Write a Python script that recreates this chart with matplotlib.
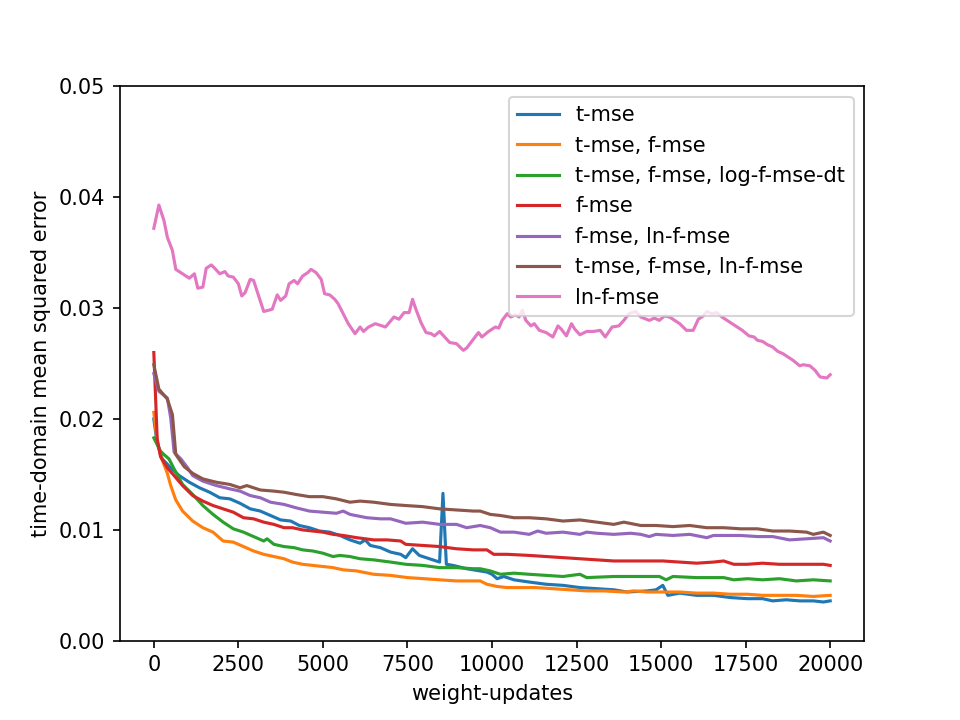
import matplotlib
matplotlib.use('Agg')

import matplotlib.pyplot as plt

# ==========================================
# data (weight-updates, mse)
# ==========================================
t_mse_steps = [0, 100, 250, 500, 750, 1050, 1350, 1650, 1950, 2250, 2550, 2850, 3150, 3450,
               3750, 4050, 4300, 4600, 4900, 5200, 5500, 5800, 6100, 6250, 6400, 6700, 7000,
               7300, 7450, 7650, 7850, 8150, 8450, 8550, 8650, 8850, 9250, 9650, 9850, 10000,
               10150, 10350, 10650, 11100, 11600, 12100, 12600, 13100, 13600, 14000, 14600,
               14850, 15050, 15200, 15550, 16050, 16550, 17050, 17550, 18000, 18300, 18700,
               19100, 19500, 19800, 20000]
t_mse = [0.0200, 0.0178, 0.0164, 0.0156, 0.0149, 0.0143, 0.0138, 0.0134, 0.0129, 0.0128,
         0.0124, 0.0119, 0.0117, 0.0113, 0.0109, 0.0108, 0.0104, 0.0102, 0.0099, 0.0098,
         0.0095, 0.0091, 0.0088, 0.0091, 0.0086, 0.0084, 0.0080, 0.0078, 0.0075, 0.0083,
         0.0077, 0.0074, 0.0071, 0.0133, 0.0069, 0.0068, 0.0065, 0.0063, 0.0062, 0.0060,
         0.0056, 0.0058, 0.0055, 0.0053, 0.0051, 0.0050, 0.0048, 0.0047, 0.0046, 0.0044,
         0.0045, 0.0046, 0.0050, 0.0041, 0.0043, 0.0041, 0.0041, 0.0039, 0.0038, 0.0038,
         0.0036, 0.0037, 0.0036, 0.0036, 0.0035, 0.0036]

tf_steps = [0, 100, 200, 300, 400, 500, 650, 850, 1150, 1450, 1750, 2050, 2350, 2650, 2950,
            3250, 3550, 3850, 4100, 4400, 4700, 5000, 5300, 5600, 6000, 6500, 7000, 7500,
            8000, 8450, 8950, 9450, 9650, 9850, 10150, 10450, 10850, 11300, 11800, 12300,
            12800, 13300, 13900, 14200, 14600, 15050, 15550, 16050, 16550, 17050, 17550,
            18000, 18500, 19000, 19500, 20000]
tf_mse = [0.0206, 0.0180, 0.0167, 0.0159, 0.0151, 0.0140, 0.0127, 0.0117, 0.0108, 0.0102,
          0.0098, 0.0090, 0.0089, 0.0085, 0.0081, 0.0078, 0.0076, 0.0074, 0.0071, 0.0069,
          0.0068, 0.0067, 0.0066, 0.0064, 0.0063, 0.0060, 0.0059, 0.0057, 0.0056, 0.0055,
          0.0054, 0.0054, 0.0054, 0.0051, 0.0049, 0.0048, 0.0048, 0.0048, 0.0047, 0.0046,
          0.0045, 0.0045, 0.0044, 0.0045, 0.0044, 0.0044, 0.0044, 0.0043, 0.0043, 0.0042,
          0.0042, 0.0041, 0.0041, 0.0041, 0.0040, 0.0041]

tf_log_steps = [0, 200, 300, 450, 600, 850, 1150, 1450, 1750, 2050, 2350, 2650, 2950, 3250,
                3350, 3550, 3850, 4150, 4400, 4700, 5000, 5300, 5500, 5800, 6100, 6500, 7000,
                7450, 7950, 8450, 8950, 9450, 9650, 9950, 10250, 10650, 11100, 11600, 12100,
                12600, 12800, 13600, 14100, 14950, 15150, 15350, 16050, 16850, 17150, 17550,
                18000, 18500, 19000, 19500, 20000]
tf_log_mse = [0.0183, 0.0171, 0.0168, 0.0164, 0.0155, 0.0141, 0.0132, 0.0122, 0.0114, 0.0107,
              0.0101, 0.0098, 0.0094, 0.0090, 0.0092, 0.0087, 0.0085, 0.0084, 0.0082, 0.0081,
              0.0079, 0.0076, 0.0077, 0.0076, 0.0074, 0.0073, 0.0071, 0.0069, 0.0068, 0.0066,
              0.0066, 0.0065, 0.0065, 0.0063, 0.0060, 0.0061, 0.0060, 0.0059, 0.0058, 0.0060,
              0.0057, 0.0058, 0.0058, 0.0058, 0.0055, 0.0058, 0.0057, 0.0057, 0.0055, 0.0056,
              0.0055, 0.0056, 0.0054, 0.0055, 0.0054]

f_steps = [0, 100, 200, 400, 600, 850, 1150, 1450, 1750, 2050, 2350, 2650, 2950, 3250, 3550,
           3850, 4100, 4400, 4700, 5000, 5300, 5600, 6000, 6500, 6900, 7300, 7450, 7950, 8450,
           8950, 9450, 9850, 10050, 10450, 11100, 11600, 12100, 12600, 13100, 13600, 14100,
           14600, 15050, 15550, 16050, 16550, 16850, 17150, 17550, 18000, 18500, 19000, 19500,
           19800, 20000]
f_mse = [0.0260, 0.0182, 0.0166, 0.0156, 0.0149, 0.0140, 0.0131, 0.0126, 0.0122, 0.0119,
         0.0116, 0.0111, 0.0110, 0.0107, 0.0105, 0.0102, 0.0102, 0.0100, 0.0099, 0.0098,
         0.0096, 0.0095, 0.0093, 0.0091, 0.0091, 0.0090, 0.0087, 0.0086, 0.0085, 0.0083,
         0.0082, 0.0082, 0.0078, 0.0078, 0.0077, 0.0076, 0.0075, 0.0074, 0.0073, 0.0072,
         0.0072, 0.0072, 0.0072, 0.0071, 0.0070, 0.0071, 0.0072, 0.0069, 0.0069, 0.0070,
         0.0069, 0.0069, 0.0069, 0.0069, 0.0068]

f_ln_steps = [0, 150, 400, 500, 600, 800, 1000, 1150, 1450, 1850, 2250, 2550, 2850, 3150, 3450,
              3850, 4200, 4600, 5000, 5400, 5600, 5800, 6300, 6700, 7000, 7450, 7950, 8450,
              8950, 9250, 9650, 9950, 10250, 10650, 11100, 11350, 11600, 12100, 12600, 12800,
              13100, 13600, 14100, 14400, 14650, 14850, 15350, 15850, 16350, 16550, 16850,
              17350, 17850, 18300, 18800, 19300, 19800, 20000]
f_ln_mse = [0.0241, 0.0225, 0.0219, 0.0201, 0.0170, 0.0164, 0.0156, 0.0149, 0.0144, 0.0140,
            0.0137, 0.0135, 0.0131, 0.0129, 0.0125, 0.0123, 0.0120, 0.0117, 0.0116, 0.0115,
            0.0117, 0.0114, 0.0111, 0.0110, 0.0110, 0.0106, 0.0107, 0.0105, 0.0105, 0.0102,
            0.0104, 0.0102, 0.0098, 0.0098, 0.0096, 0.0099, 0.0097, 0.0098, 0.0096, 0.0098,
            0.0097, 0.0096, 0.0097, 0.0096, 0.0094, 0.0096, 0.0095, 0.0096, 0.0093, 0.0095,
            0.0095, 0.0095, 0.0094, 0.0094, 0.0091, 0.0092, 0.0093, 0.0090]

tf_ln_steps = [0, 150, 400, 550, 650, 900, 1150, 1450, 1850, 2250, 2550, 2750, 3150, 3550,
               3850, 4200, 4600, 5000, 5400, 5800, 6100, 6500, 7000, 7450, 7950, 8450, 8950,
               9450, 9650, 9950, 10250, 10650, 11100, 11600, 12100, 12600, 13100, 13600, 13900,
               14400, 14850, 15350, 15850, 16350, 16850, 17350, 17850, 18300, 18800, 19300,
               19500, 19800, 20000]
tf_ln_mse = [0.0249, 0.0227, 0.0218, 0.0204, 0.0168, 0.0157, 0.0151, 0.0146, 0.0143, 0.0141,
             0.0138, 0.0140, 0.0136, 0.0135, 0.0134, 0.0132, 0.0130, 0.0130, 0.0128, 0.0125,
             0.0126, 0.0125, 0.0123, 0.0122, 0.0121, 0.0119, 0.0118, 0.0117, 0.0117, 0.0114,
             0.0113, 0.0111, 0.0111, 0.0110, 0.0108, 0.0109, 0.0107, 0.0105, 0.0107, 0.0104,
             0.0104, 0.0103, 0.0104, 0.0102, 0.0102, 0.0101, 0.0101, 0.0099, 0.0099, 0.0098,
             0.0096, 0.0098, 0.0095]

ln_steps = [0, 150, 300, 400, 550, 650, 850, 950, 1050, 1200, 1300, 1450, 1550, 1700, 1800,
            1950, 2100, 2200, 2350, 2500, 2600, 2700, 2850, 2950, 3100, 3250, 3500, 3650, 3750,
            3900, 4000, 4150, 4250, 4400, 4550, 4650, 4800, 4950, 5050, 5200, 5350, 5450, 5600,
            5750, 5950, 6100, 6200, 6350, 6550, 6850, 7100, 7250, 7400, 7550, 7650, 7750, 7900,
            8050, 8200, 8300, 8450, 8600, 8750, 8950, 9150, 9250, 9450, 9600, 9700, 9900, 10100,
            10200, 10300, 10450, 10550, 10700, 10800, 10900, 11000, 11150, 11250, 11400, 11600,
            11800, 11950, 12050, 12200, 12350, 12450, 12600, 12800, 13000, 13200, 13350, 13550,
            13750, 13900, 14050, 14250, 14400, 14650, 14800, 14950, 15100, 15250, 15400, 15550,
            15750, 15950, 16100, 16250, 16350, 16500, 16650, 16800, 16900, 17100, 17250, 17400,
            17600, 17750, 17850, 18000, 18150, 18300, 18450, 18600, 18750, 18900, 19100, 19200,
            19400, 19550, 19700, 19900, 20000]
ln_mse = [0.0372, 0.0393, 0.0379, 0.0364, 0.0352, 0.0335, 0.0331, 0.0329, 0.0327, 0.0331,
          0.0318, 0.0319, 0.0336, 0.0339, 0.0336, 0.0331, 0.0333, 0.0329, 0.0328, 0.0322,
          0.0311, 0.0314, 0.0326, 0.0325, 0.0311, 0.0297, 0.0299, 0.0312, 0.0307, 0.0311,
          0.0322, 0.0325, 0.0322, 0.0329, 0.0332, 0.0335, 0.0332, 0.0326, 0.0313, 0.0312,
          0.0308, 0.0304, 0.0295, 0.0286, 0.0277, 0.0283, 0.0279, 0.0283, 0.0286, 0.0283,
          0.0292, 0.0290, 0.0296, 0.0296, 0.0308, 0.0299, 0.0287, 0.0278, 0.0277, 0.0275,
          0.0279, 0.0274, 0.0269, 0.0268, 0.0262, 0.0264, 0.0272, 0.0278, 0.0274, 0.0279,
          0.0283, 0.0282, 0.0289, 0.0295, 0.0292, 0.0294, 0.0292, 0.0298, 0.0289, 0.0284,
          0.0286, 0.0280, 0.0278, 0.0274, 0.0284, 0.0281, 0.0275, 0.0286, 0.0281, 0.0276,
          0.0279, 0.0279, 0.0280, 0.0274, 0.0283, 0.0284, 0.0289, 0.0295, 0.0297, 0.0292,
          0.0289, 0.0291, 0.0289, 0.0293, 0.0292, 0.0289, 0.0286, 0.0280, 0.0280, 0.0290,
          0.0293, 0.0297, 0.0295, 0.0296, 0.0292, 0.0290, 0.0286, 0.0283, 0.0280, 0.0275,
          0.0274, 0.0271, 0.0270, 0.0267, 0.0265, 0.0261, 0.0259, 0.0256, 0.0253, 0.0248,
          0.0249, 0.0248, 0.0244, 0.0238, 0.0237, 0.0240]

runs = [
    ("t-mse", t_mse_steps, t_mse),
    ("t-mse, f-mse", tf_steps, tf_mse),
    ("t-mse, f-mse, log-f-mse-dt", tf_log_steps, tf_log_mse),
    ("f-mse", f_steps, f_mse),
    ("f-mse, ln-f-mse", f_ln_steps, f_ln_mse),
    ("t-mse, f-mse, ln-f-mse", tf_ln_steps, tf_ln_mse),
    ("ln-f-mse", ln_steps, ln_mse),
]

# ==========================================
# plot (default 6.4x4.8 figure saved at 150 dpi)
# ==========================================
fig = plt.figure(figsize=(6.4, 4.8))
for label, steps, mse in runs:
    plt.plot(steps, mse, label=label)

plt.ylim(0, 0.05)
plt.xlabel("weight-updates")
plt.ylabel("time-domain mean squared error")
plt.legend(loc='upper right')

plt.savefig("out.png", dpi=150)
plt.close(fig)
